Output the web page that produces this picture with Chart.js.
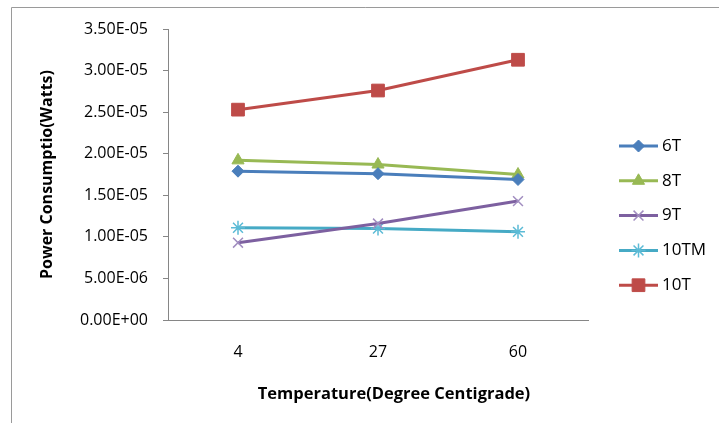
<!DOCTYPE html>
<html>
<head>
<meta charset="utf-8">
<script src="https://cdn.jsdelivr.net/npm/chart.js@4"></script>
<style>
html,body{margin:0;padding:0;background:#fff;}
#wrap{width:719px;height:423px;position:relative;}
</style>
</head>
<body>
<div id="wrap"><canvas id="c" width="719" height="423"></canvas></div>
<script>
const categories = ['4', '27', '60'];
const seriesNames = ['6T', '8T', '9T', '10TM', '10T'];
const values6T   = [1.79e-5, 1.76e-5, 1.69e-5];
const values8T   = [1.92e-5, 1.87e-5, 1.75e-5];
const values9T   = [0.93e-5, 1.16e-5, 1.43e-5];
const values10TM = [1.11e-5, 1.10e-5, 1.06e-5];
const values10T  = [2.53e-5, 2.76e-5, 3.13e-5];
const yTicks = [0, 5e-6, 1e-5, 1.5e-5, 2e-5, 2.5e-5, 3e-5, 3.5e-5];
const xTitle = 'Temperature(Degree Centigrade)';
const yTitle = 'Power Consumptio(Watts)';

const FONT = "'Open Sans', 'Liberation Sans', sans-serif";

const styles = [
  {color:'#4A7EBB', ptColor:'#4A7EBB', style:'rectRot', r:6, bw:1},
  {color:'#98B954', ptColor:'#98B954', style:'triangle', r:7, bw:1},
  {color:'#7D60A0', ptColor:'#A18DC0', style:'crossRot', r:7, bw:1.5},
  {color:'#46AAC5', ptColor:'#5CBBD6', style:'star', r:7, bw:1.5},
  {color:'#BE4B48', ptColor:'#BE4B48', style:'rect', r:9, bw:1}
];
const allValues = [values6T, values8T, values9T, values10TM, values10T];

function fmtExp(v){
  let s = v.toExponential(2).toUpperCase();
  return s.replace(/E([+-])(\d)$/, 'E$10$2');
}

const datasets = seriesNames.map((n,i)=>({
  label: n,
  data: allValues[i],
  borderColor: styles[i].color,
  backgroundColor: styles[i].ptColor,
  pointStyle: styles[i].style,
  pointRadius: styles[i].r,
  pointHoverRadius: styles[i].r,
  pointBorderColor: styles[i].ptColor,
  pointBackgroundColor: styles[i].ptColor,
  pointBorderWidth: styles[i].bw,
  borderWidth: 3,
  tension: 0,
  fill: false
}));

const framePlugin = {
  id:'frame',
  beforeDraw(chart){
    const ctx = chart.ctx;
    ctx.save();
    ctx.fillStyle = '#fff';
    ctx.fillRect(0,0,chart.width,chart.height);
    ctx.strokeStyle = '#9a9a9a';
    ctx.lineWidth = 1;
    ctx.beginPath();
    ctx.moveTo(11.5, 430);
    ctx.lineTo(11.5, 7.5);
    ctx.lineTo(730, 7.5);
    ctx.stroke();
    ctx.restore();
  }
};

const legendPlugin = {
  id:'customLegend',
  afterDraw(chart){
    const ctx = chart.ctx;
    const x0 = 619, x1 = 658, tx = 662;
    const y0 = 146, dy = 34.8;
    ctx.save();
    chart.data.datasets.forEach((ds,i)=>{
      const y = y0 + i*dy;
      ctx.strokeStyle = ds.borderColor;
      ctx.lineWidth = 3;
      ctx.beginPath();
      ctx.moveTo(x0, y);
      ctx.lineTo(x1, y);
      ctx.stroke();
      ctx.fillStyle = ds.pointBackgroundColor;
      ctx.strokeStyle = ds.pointBorderColor;
      ctx.lineWidth = ds.pointBorderWidth;
      Chart.helpers.drawPoint(ctx, {pointStyle: ds.pointStyle, radius: ds.pointRadius, rotation: 0, borderWidth: ds.pointBorderWidth}, (x0+x1)/2, y);
      ctx.fillStyle = '#000';
      ctx.font = '17px ' + FONT;
      ctx.textBaseline = 'middle';
      ctx.textAlign = 'left';
      ctx.fillText(ds.label, tx, y);
    });
    // x-axis title (offset to the right as in the reference)
    ctx.font = 'bold 16.5px ' + FONT;
    ctx.textAlign = 'center';
    ctx.textBaseline = 'middle';
    ctx.fillText(xTitle, 394, 394);
    ctx.restore();
  }
};

new Chart(document.getElementById('c'), {
  type:'line',
  data:{labels: categories, datasets},
  plugins:[framePlugin, legendPlugin],
  options:{
    responsive:false,
    animation:false,
    devicePixelRatio:1,
    layout:{padding:{top:29, right:131, left:0, bottom:0}},
    plugins:{legend:{display:false}, tooltip:{enabled:false}},
    scales:{
      x:{
        type:'category',
        offset:true,
        grid:{display:false, drawTicks:false},
        border:{display:true, color:'#868686', width:1},
        ticks:{color:'#000', padding:23, font:{family:FONT, size:16}},
        title:{display:false},
        afterFit(s){ s.height = 103; }
      },
      y:{
        min:0, max:3.5e-5,
        afterBuildTicks(s){ s.ticks = yTicks.map(v=>({value:v})); },
        grid:{display:true, drawOnChartArea:false, drawTicks:true, tickLength:5, color:'#868686'},
        border:{display:true, color:'#868686', width:1},
        ticks:{color:'#000', padding:15, font:{family:FONT, size:16},
          callback:(v)=>fmtExp(v)},
        title:{display:true, text:yTitle, color:'#000',
          font:{family:FONT, size:16, weight:'bold'}, padding:{top:38,bottom:0}},
        afterFit(s){ s.width = 168; }
      }
    }
  }
});
</script>
</body>
</html>
